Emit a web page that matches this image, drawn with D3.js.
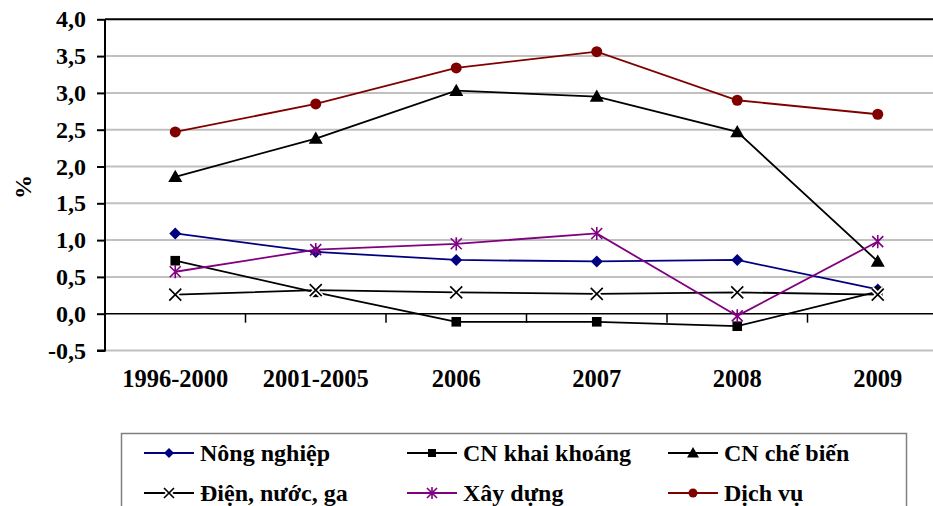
<!DOCTYPE html>
<html><head><meta charset="utf-8">
<script src="https://cdn.jsdelivr.net/npm/d3@7/dist/d3.min.js"></script>
<style>
html,body{margin:0;padding:0;background:#fff;}
text{font-family:"Liberation Serif";font-weight:bold;}
</style>
</head><body>
<svg id="chart" width="933" height="506" font-family="Liberation Serif" font-weight="bold"></svg>
<script>
const categories = ["1996-2000", "2001-2005", "2006", "2007", "2008", "2009"];
const yTicks = [-0.5, 0, 0.5, 1, 1.5, 2, 2.5, 3, 3.5, 4];
const yTickLabels = ["-0,5", "0,0", "0,5", "1,0", "1,5", "2,0", "2,5", "3,0", "3,5", "4,0"];
const nongNghiep = [1.09, 0.84, 0.73, 0.71, 0.73, 0.33];
const khaiKhoang = [0.72, 0.29, -0.11, -0.11, -0.17, 0.30];
const cheBien = [1.86, 2.38, 3.03, 2.95, 2.47, 0.71];
const dienNuocGa = [0.26, 0.32, 0.29, 0.27, 0.29, 0.26];
const xayDung = [0.57, 0.87, 0.95, 1.09, -0.03, 0.98];
const dichVu = [2.47, 2.85, 3.34, 3.56, 2.90, 2.71];
const seriesNames = ["Nông nghiệp", "CN khai khoáng", "CN chế biến", "Điện, nước, ga", "Xây dựng", "Dịch vụ"];
const seriesColors = ["#000080", "#000000", "#000000", "#000000", "#800080", "#800000"];
const seriesMarkers = ["diamond", "square", "triangle", "x", "star", "circle"];
const seriesValues = [nongNghiep, khaiKhoang, cheBien, dienNuocGa, xayDung, dichVu];
const yTitle = "%";

const svg = d3.select("#chart");
const pLeft = 105, pRight = 948, pTop = 19.3, pBottom = 350.5;
const x = d3.scaleBand().domain(categories).range([pLeft, pRight]);
const cx = c => x(c) + x.bandwidth() / 2;
const y = d3.scaleLinear().domain([-0.5, 4]).range([pBottom, pTop]);

function styleText(sel, size) {
  return sel.attr("font-family", "Liberation Serif").attr("font-weight", "bold")
    .attr("font-size", size).attr("fill", "#000");
}

// gridlines
svg.append("g").selectAll("line").data(yTicks).join("line")
  .attr("x1", pLeft).attr("x2", 933)
  .attr("y1", d => y(d)).attr("y2", d => y(d))
  .attr("stroke", d => d === 4 ? "#000" : (d === 0 ? "none" : "#c0c0c0"))
  .attr("stroke-width", 2);

// y axis
const yAxis = d3.axisLeft(y).tickValues(yTicks).tickSize(8)
  .tickFormat((d, i) => yTickLabels[i]).tickPadding(11);
const gy = svg.append("g").attr("transform", `translate(${pLeft},0)`).call(yAxis);
gy.attr("font-family", "Liberation Serif").attr("font-size", 24);
gy.select(".domain").attr("stroke", "#000").attr("stroke-width", 2).attr("d", `M-8,${pBottom}H0V${pTop}`);
gy.selectAll(".tick line").attr("stroke", "#000").attr("stroke-width", 2);
styleText(gy.selectAll(".tick text"), 24);

// x axis at zero
const xAxis = d3.axisBottom(x).tickSize(0).tickPadding(0);
const gx = svg.append("g").attr("transform", `translate(0,${y(0)})`).call(xAxis);
gx.attr("font-family", "Liberation Serif");
gx.select(".domain").attr("stroke", "#000").attr("stroke-width", 1.5).attr("d", `M${pLeft},0H933`);
gx.selectAll(".tick text").remove();
// category boundary ticks
svg.append("g").selectAll("line").data(categories.slice(1)).join("line")
  .attr("x1", d => x(d)).attr("x2", d => x(d))
  .attr("y1", y(0)).attr("y2", y(0) + 9)
  .attr("stroke", "#000").attr("stroke-width", 1.5);
// category labels
styleText(svg.append("g").selectAll("text").data(categories).join("text")
  .attr("x", d => cx(d)).attr("y", 387)
  .attr("text-anchor", "middle")
  .text(d => d), 24.5);

// y title
styleText(svg.append("text").attr("transform", "translate(31,187) rotate(-90)")
  .attr("text-anchor", "middle").text(yTitle), 24);

function drawMarker(g, type, color, px, py, s) {
  if (type === "diamond") {
    g.append("path").attr("d", `M${px},${py - s}L${px + s},${py}L${px},${py + s}L${px - s},${py}Z`).attr("fill", color);
  } else if (type === "square") {
    g.append("rect").attr("x", px - s * 0.8).attr("y", py - s * 0.8).attr("width", s * 1.6).attr("height", s * 1.6).attr("fill", color);
  } else if (type === "triangle") {
    g.append("path").attr("d", `M${px},${py - s}L${px + s},${py + s * 0.75}L${px - s},${py + s * 0.75}Z`).attr("fill", color);
  } else if (type === "x") {
    const d = `M${px - s},${py - s}L${px + s},${py + s}M${px - s},${py + s}L${px + s},${py - s}`;
    g.append("path").attr("d", d).attr("stroke", "#fff").attr("stroke-width", 5).attr("fill", "none");
    g.append("path").attr("d", d).attr("stroke", color).attr("stroke-width", 1.6).attr("fill", "none");
  } else if (type === "star") {
    const d = `M${px - s},${py - s}L${px + s},${py + s}M${px - s},${py + s}L${px + s},${py - s}M${px},${py - s * 1.2}L${px},${py + s * 1.2}`;
    g.append("path").attr("d", d).attr("stroke", color).attr("stroke-width", 1.6).attr("fill", "none");
  } else if (type === "circle") {
    g.append("circle").attr("cx", px).attr("cy", py).attr("r", s).attr("fill", color);
  }
}
const markerSize = {diamond: 6, square: 6, triangle: 7, x: 6, star: 5.5, circle: 5.5};
const legendMarkerSize = {diamond: 5, square: 5, triangle: 6, x: 5, star: 5, circle: 4.5};

const line = d3.line().x((d, i) => cx(categories[i])).y(d => y(d));
seriesValues.forEach((vals, si) => {
  const g = svg.append("g");
  g.append("path").datum(vals).attr("d", line).attr("fill", "none")
    .attr("stroke", seriesColors[si]).attr("stroke-width", 1.8);
  vals.forEach((v, i) => drawMarker(g, seriesMarkers[si], seriesColors[si], cx(categories[i]), y(v), markerSize[seriesMarkers[si]]));
});

// legend
svg.append("rect").attr("x", 121.5).attr("y", 433.5).attr("width", 785).attr("height", 90)
  .attr("fill", "none").attr("stroke", "#808080").attr("stroke-width", 1.5);
const colX = [144, 407, 668];
const rowY = [453, 493];
seriesNames.forEach((name, i) => {
  const lx = colX[i % 3], ly = rowY[Math.floor(i / 3)];
  const g = svg.append("g");
  g.append("line").attr("x1", lx).attr("x2", lx + 50).attr("y1", ly).attr("y2", ly)
    .attr("stroke", seriesColors[i]).attr("stroke-width", 1.8);
  drawMarker(g, seriesMarkers[i], seriesColors[i], lx + 25, ly, legendMarkerSize[seriesMarkers[i]]);
  styleText(g.append("text").attr("x", lx + 56).attr("y", ly).attr("dy", "0.33em").text(name), 24);
});
</script>
</body></html>
